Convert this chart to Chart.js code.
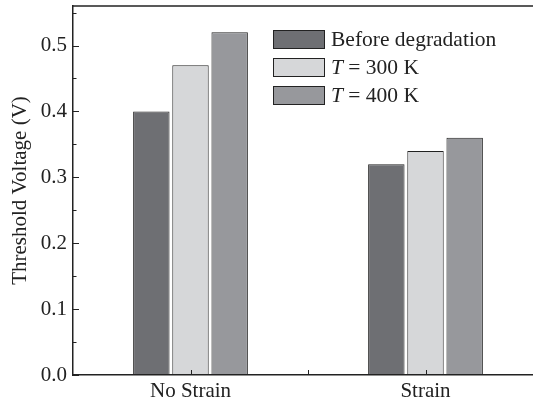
<!DOCTYPE html>
<html>
<head>
<meta charset="utf-8">
<script src="https://cdn.jsdelivr.net/npm/chart.js@4"></script>
<style>
  html, body { margin: 0; padding: 0; background: #fff; overflow: hidden; }
  #wrap { width: 545px; height: 404px; }
</style>
</head>
<body>
<div id="wrap"><canvas id="chartCanvas" width="545" height="404"></canvas></div>
<script>
const categories = ['No Strain', 'Strain'];
const seriesNames = ['Before degradation', 'T = 300 K', 'T = 400 K'];
const beforeDegradation = [0.40, 0.32];
const temp300 = [0.47, 0.34];
const temp400 = [0.52, 0.36];
const yTicks = [0.0, 0.1, 0.2, 0.3, 0.4, 0.5];

const fillColors = ['#6e6f73', '#d6d7d9', '#97989c'];
const lineColor = '#222';
const serif = '"Liberation Serif", "Times New Roman", serif';

// inward ticks + top frame line
const frameTicks = {
    id: 'frameTicks',
    afterDraw(chart) {
        const ctx = chart.ctx;
        const area = chart.chartArea;
        const x = chart.scales.x;
        const y = chart.scales.y;
        ctx.save();
        ctx.strokeStyle = lineColor;
        ctx.lineWidth = 1.5;
        ctx.beginPath();
        ctx.moveTo(area.left, area.top);
        ctx.lineTo(area.right, area.top);
        ctx.stroke();

        ctx.lineWidth = 1;
        ctx.beginPath();
        for (let i = 0; i <= 11; i++) {
            const v = i * 0.05;
            const py = Math.round(y.getPixelForValue(v)) + 0.5;
            const len = i % 2 === 0 ? 6 : 3.5;
            ctx.moveTo(area.left, py);
            ctx.lineTo(area.left + len, py);
        }
        for (let i = 0; i < categories.length; i++) {
            const px = Math.round(x.getPixelForValue(i)) + 0.5;
            ctx.moveTo(px, area.bottom);
            ctx.lineTo(px, area.bottom - 5);
            if (i < categories.length - 1) {
                const mid = Math.round((x.getPixelForValue(i) + x.getPixelForValue(i + 1)) / 2) + 0.5;
                ctx.moveTo(mid, area.bottom);
                ctx.lineTo(mid, area.bottom - 5);
            }
        }
        ctx.stroke();
        ctx.restore();
    }
};

// legend drawn inside the plot, with italic T
const innerLegend = {
    id: 'innerLegend',
    afterDraw(chart) {
        const ctx = chart.ctx;
        const boxX = 273, boxW = 51, boxH = 18;
        const rowTop = 30, rowGap = 28;
        ctx.save();
        ctx.textBaseline = 'middle';
        chart.data.datasets.forEach((ds, i) => {
            const top = rowTop + i * rowGap;
            ctx.fillStyle = ds.backgroundColor;
            ctx.fillRect(boxX, top, boxW, boxH);
            ctx.strokeStyle = lineColor;
            ctx.lineWidth = 1;
            ctx.strokeRect(boxX + 0.5, top + 0.5, boxW, boxH);

            ctx.fillStyle = '#222';
            let tx = boxX + boxW + 7;
            const ty = top + boxH / 2 + 1;
            let label = ds.label;
            if (label.startsWith('T ')) {
                ctx.font = 'italic 21.5px ' + serif;
                ctx.fillText('T', tx, ty);
                tx += ctx.measureText('T').width;
                label = label.slice(1);
            }
            ctx.font = '21.5px ' + serif;
            ctx.fillText(label, tx, ty);
        });
        ctx.restore();
    }
};

const datasets = [beforeDegradation, temp300, temp400].map((vals, i) => ({
    label: seriesNames[i],
    data: vals,
    backgroundColor: fillColors[i],
    borderColor: lineColor,
    borderWidth: 1,
    borderSkipped: false,
    barPercentage: 0.93,
    categoryPercentage: 0.5
}));

const context = document.getElementById('chartCanvas').getContext('2d');
new Chart(context, {
    type: 'bar',
    data: { labels: categories, datasets: datasets },
    options: {
        responsive: false,
        animation: false,
        layout: { padding: { top: 6, right: 2, left: 0, bottom: 0 } },
        plugins: {
            legend: { display: false },
            tooltip: { enabled: false }
        },
        scales: {
            x: {
                grid: { display: false, drawTicks: false, tickLength: 0 },
                border: { display: true, color: lineColor, width: 1.5 },
                ticks: { color: '#222', font: { family: serif, size: 21 }, padding: 4 },
                afterFit(scale) {
                    scale.height = 29;
                    scale.paddingLeft = 0;
                    scale.paddingRight = 0;
                }
            },
            y: {
                min: 0,
                max: 0.56,
                grid: { display: false, drawTicks: false, tickLength: 0 },
                border: { display: true, color: lineColor, width: 1.5 },
                afterBuildTicks(scale) {
                    scale.ticks = yTicks.map(v => ({ value: v }));
                },
                ticks: {
                    color: '#222',
                    font: { family: serif, size: 21 },
                    padding: 6,
                    callback: v => Number(v).toFixed(1)
                },
                title: {
                    display: true,
                    text: 'Threshold Voltage (V)',
                    color: '#222',
                    font: { family: serif, size: 21 },
                    padding: { top: 8, bottom: 0 }
                },
                afterFit(scale) {
                    scale.width = 73;
                    scale.paddingTop = 0;
                    scale.paddingBottom = 0;
                }
            }
        }
    },
    plugins: [frameTicks, innerLegend]
});
</script>
</body>
</html>
